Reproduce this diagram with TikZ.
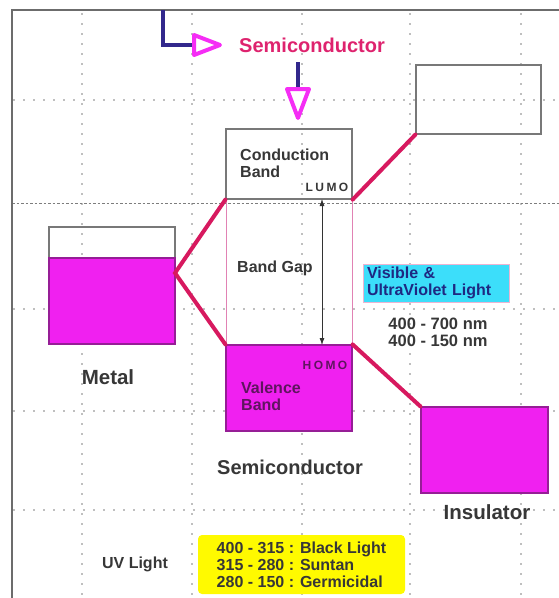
\documentclass[tikz,border=0pt]{standalone}
\usepackage{fontspec}
\setmainfont{Liberation Sans}
\usetikzlibrary{arrows.meta}

\definecolor{bandmagenta}{RGB}{240,32,240}
\definecolor{bandedge}{RGB}{150,30,150}
\definecolor{linkred}{RGB}{215,25,95}
\definecolor{titlered}{RGB}{222,35,110}
\definecolor{arrownavy}{RGB}{50,40,140}
\definecolor{arrowpink}{RGB}{245,45,245}
\definecolor{boxgray}{RGB}{120,120,120}
\definecolor{labelgray}{RGB}{55,55,55}
\definecolor{lightnavy}{RGB}{30,40,130}
\definecolor{valpurple}{RGB}{95,20,95}
\definecolor{skycyan}{RGB}{60,222,250}
\definecolor{uvyellow}{RGB}{255,250,0}
\definecolor{gappink}{RGB}{225,130,180}
\definecolor{dotgray}{RGB}{125,125,125}

\begin{document}
\begin{tikzpicture}[x = 1pt, y = -1pt,
	band/.style={draw=boxgray, line width=1.2pt, minimum width=126pt, inner sep=0pt},
	fullband/.style={band, fill=bandmagenta, draw=bandedge},
	link/.style={color=linkred, line width=4pt, line cap=round},
	label/.style={node font=\fontsize{16}{17}\selectfont\bfseries, color=labelgray, align=left, inner sep=0pt},
	orbital/.style={node font=\fontsize{12}{12}\selectfont\bfseries\addfontfeatures{LetterSpace=20}, inner sep=0pt},
	gridline/.style={color=dotgray, line width=1.6pt, line cap=round, dash pattern=on 0pt off 10pt}]
\useasboundingbox (0,0) rectangle (559,598);
% dotted grid
\foreach \gx in {82,192,302,410,521}
	\draw[gridline] (\gx,14) -- (\gx,598);
\foreach \gy in {100,309,411,510}
	\draw[gridline] (14,\gy) -- (559,\gy);
\draw[color=dotgray, line width=1pt, dash pattern=on 2.5pt off 2pt] (12,203) -- (559,203);
\draw[color=gray!85!black, line width=2pt] (12,598) -- (12,10) -- (559,10);

% bands
\node[band, minimum height=117pt] (metal) at (112,285.5) {};
\node[fullband, minimum height=86pt] (metalfill) at (112,301) {};
\node[band, draw=gappink, line width=0.8pt, minimum height=146pt] (gap) at (289,272) {};
\node[band, minimum height=70pt] (cond) at (289,164) {};
\node[fullband, minimum height=86pt] (val) at (289,388) {};
\node[band, minimum width=125pt, minimum height=69pt] (insup) at (478.5,99.5) {};
\node[fullband, minimum width=127pt, minimum height=86pt] (inslow) at (484.5,450) {};

\coordinate (mv) at (175,273);
\draw[link] (cond.south west) -- (mv) -- (val.north west);
\draw[link] (cond.south east) -- (insup.south west);
\draw[link] (val.north east) -- (inslow.north west);

\coordinate (lumo) at (322,199);
\coordinate (homo) at (322,345);
\draw[{Latex[length=7pt,width=5pt]}-{Latex[length=7pt,width=5pt]}, line width=0.8pt, color=black!80] (lumo) -- (homo);

% title arrows
\node[label, node font=\fontsize{20}{20}\selectfont\bfseries, color=titlered] (title) at (312,45) {Semiconductor};
\coordinate (feed) at (163,10);
\coordinate (feedturn) at (163,45);
\coordinate (feedend) at (194,45);
\coordinate (drop) at (298,62);
\coordinate (dropend) at (298,89);
\draw[color=arrownavy, line width=4pt] (feed) -- (feedturn) -- (feedend);
\draw[color=arrownavy, line width=4pt] (drop) -- (dropend);
\filldraw[fill=white, draw=arrowpink, line width=4pt, line join=round] (194,35) -- (220,45) -- (194,55) -- cycle;
\filldraw[fill=white, draw=arrowpink, line width=4pt, line join=round] (287,89) -- (309,89) -- (298,118) -- cycle;

% labels
\node[label, anchor=west] (condtext) at (240,163) {Conduction\\Band};
\node[orbital, color=labelgray] (lumotext) at (327,187) {LUMO};
\node[label, anchor=west] (gaptext) at (237,268) {Band Gap};
\node[label, fill=skycyan, draw=gappink!60, line width=0.6pt, text=lightnavy, text width=138pt, inner xsep=4pt, minimum height=38pt] (light) at (436,283) {Visible \&\\UltraViolet Light};
\node[label, node font=\fontsize{16.5}{17}\selectfont\bfseries] (nm) at (438,332) {400 - 700 nm\\400 - 150 nm};
\node[orbital, color=valpurple] (homotext) at (325,365) {HOMO};
\node[label, anchor=west, color=valpurple] (valtext) at (241,396) {Valence\\Band};
\node[label, node font=\fontsize{20.5}{21}\selectfont\bfseries] (metaltext) at (108,377) {Metal};
\node[label, node font=\fontsize{20}{20}\selectfont\bfseries] (semitext) at (290,467) {Semiconductor};
\node[label, node font=\fontsize{20.5}{21}\selectfont\bfseries] (instext) at (487,512) {Insulator};
\node[label] (uvtext) at (135,564) {UV Light};
\node[label, node font=\fontsize{16}{17}\selectfont\bfseries, fill=uvyellow, rounded corners=4pt, minimum width=207pt, minimum height=59pt] (uvbox) at (301.5,564.5) {400 - 315 : Black Light\\315 - 280 : Suntan\\280 - 150 : Germicidal};
\end{tikzpicture}
\end{document}
